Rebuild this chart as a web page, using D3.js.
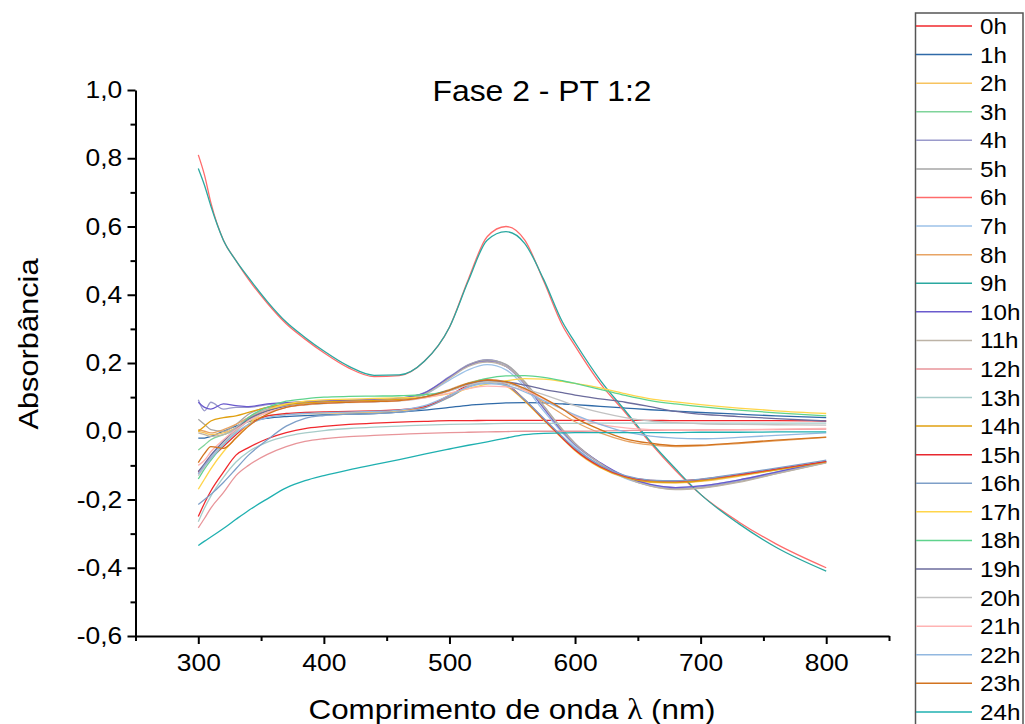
<!DOCTYPE html>
<html>
<head>
<meta charset="utf-8">
<script src="https://cdn.jsdelivr.net/npm/d3@7"></script>
<style>
  body { margin: 0; background: #fff; }
  svg { display: block; }
  text { font-family: "Liberation Sans", Arial, sans-serif; fill: #000; }
</style>
</head>
<body>
<div id="chart"></div>
<script>
// wavelengths (nm) shared by every series
const wavelengths = [300, 305, 310, 320, 330, 340, 355, 370, 385, 400, 420, 440, 460, 480, 500, 515, 530, 545, 560, 575, 590, 600, 620, 640, 660, 680, 700, 730, 760, 800];

const hours = ['0h', '1h', '2h', '3h', '4h', '5h', '6h', '7h', '8h', '9h', '10h', '11h', '12h',
  '13h', '14h', '15h', '16h', '17h', '18h', '19h', '20h', '21h', '22h', '23h', '24h'];

const yTicks = [-0.6, -0.4, -0.2, 0.0, 0.2, 0.4, 0.6, 0.8, 1.0];
const yMinor = [-0.5, -0.3, -0.1, 0.1, 0.3, 0.5, 0.7, 0.9];
const xTicks = [300, 400, 500, 600, 700, 800];
const xMinor = [250, 350, 450, 550, 650, 750, 850];

// absorbance, one array per hour
const abs0h = [-0.25, -0.21, -0.175, -0.12, -0.07, -0.048, -0.022, -0.004, 0.008, 0.014, 0.02, 0.024, 0.027, 0.029, 0.031, 0.031, 0.032, 0.032, 0.032, 0.032, 0.032, 0.032, 0.032, 0.032, 0.032, 0.031, 0.031, 0.031, 0.031, 0.03];
const abs1h = [-0.02, -0.02, -0.015, 0.0, 0.015, 0.028, 0.038, 0.043, 0.046, 0.048, 0.05, 0.052, 0.056, 0.062, 0.07, 0.076, 0.08, 0.083, 0.084, 0.083, 0.08, 0.078, 0.073, 0.068, 0.063, 0.059, 0.055, 0.05, 0.045, 0.04];
const abs2h = [0.0, -0.005, -0.01, -0.005, 0.01, 0.03, 0.045, 0.05, 0.052, 0.053, 0.054, 0.056, 0.06, 0.07, 0.1, 0.13, 0.145, 0.132, 0.088, 0.032, -0.022, -0.057, -0.107, -0.137, -0.15, -0.152, -0.147, -0.132, -0.114, -0.092];
const abs3h = [-0.055, -0.04, -0.025, -0.01, 0.005, 0.03, 0.06, 0.075, 0.082, 0.085, 0.087, 0.089, 0.092, 0.1, 0.12, 0.14, 0.15, 0.138, 0.092, 0.036, -0.018, -0.053, -0.103, -0.133, -0.146, -0.148, -0.143, -0.128, -0.112, -0.09];
const abs4h = [0.092, 0.06, 0.085, 0.065, 0.07, 0.07, 0.078, 0.082, 0.086, 0.088, 0.09, 0.092, 0.096, 0.113, 0.16, 0.195, 0.21, 0.195, 0.14, 0.07, 0.0, -0.04, -0.095, -0.135, -0.158, -0.168, -0.163, -0.145, -0.122, -0.09];
const abs5h = [0.035, 0.02, 0.005, 0.0, 0.02, 0.05, 0.07, 0.08, 0.085, 0.087, 0.089, 0.091, 0.095, 0.11, 0.157, 0.194, 0.208, 0.196, 0.145, 0.075, 0.005, -0.035, -0.093, -0.135, -0.16, -0.17, -0.166, -0.148, -0.124, -0.092];
const abs6h = [0.81, 0.75, 0.67, 0.56, 0.5, 0.445, 0.375, 0.315, 0.27, 0.23, 0.185, 0.16, 0.163, 0.205, 0.305, 0.445, 0.57, 0.6, 0.56, 0.44, 0.31, 0.25, 0.14, 0.055, -0.035, -0.115, -0.185, -0.265, -0.33, -0.4];
const abs7h = [-0.125, -0.1, -0.075, -0.03, 0.01, 0.04, 0.065, 0.075, 0.08, 0.083, 0.086, 0.089, 0.093, 0.107, 0.15, 0.18, 0.195, 0.18, 0.13, 0.06, -0.005, -0.045, -0.1, -0.138, -0.158, -0.165, -0.16, -0.143, -0.12, -0.09];
const abs8h = [0.005, 0.0, -0.005, 0.005, 0.02, 0.04, 0.06, 0.072, 0.079, 0.083, 0.086, 0.088, 0.091, 0.1, 0.122, 0.142, 0.152, 0.145, 0.12, 0.085, 0.05, 0.028, -0.005, -0.028, -0.04, -0.045, -0.043, -0.036, -0.028, -0.018];
const abs9h = [0.77, 0.72, 0.66, 0.56, 0.5, 0.45, 0.38, 0.32, 0.275, 0.235, 0.19, 0.164, 0.165, 0.205, 0.305, 0.44, 0.56, 0.585, 0.55, 0.445, 0.32, 0.26, 0.15, 0.06, -0.03, -0.11, -0.185, -0.27, -0.34, -0.41];
const abs10h = [0.085, 0.07, 0.065, 0.08, 0.075, 0.072, 0.08, 0.084, 0.087, 0.089, 0.091, 0.093, 0.097, 0.112, 0.158, 0.192, 0.205, 0.19, 0.138, 0.068, 0.0, -0.038, -0.092, -0.132, -0.156, -0.165, -0.16, -0.143, -0.12, -0.088];
const abs11h = [-0.005, -0.01, -0.015, -0.01, 0.01, 0.04, 0.065, 0.076, 0.082, 0.085, 0.087, 0.09, 0.094, 0.108, 0.155, 0.19, 0.203, 0.19, 0.14, 0.072, 0.003, -0.037, -0.094, -0.136, -0.161, -0.171, -0.167, -0.15, -0.125, -0.093];
const abs12h = [-0.283, -0.255, -0.225, -0.18, -0.13, -0.1, -0.068, -0.045, -0.03, -0.022, -0.016, -0.012, -0.009, -0.006, -0.004, -0.003, -0.002, -0.001, 0.0, 0.0, 0.0, 0.0, 0.001, 0.002, 0.003, 0.003, 0.004, 0.004, 0.005, 0.006];
const abs13h = [-0.265, -0.225, -0.19, -0.135, -0.09, -0.06, -0.032, -0.015, -0.005, 0.002, 0.008, 0.012, 0.015, 0.018, 0.02, 0.021, 0.022, 0.023, 0.023, 0.023, 0.023, 0.023, 0.024, 0.024, 0.024, 0.024, 0.024, 0.024, 0.024, 0.024];
const abs14h = [0.0, 0.015, 0.03, 0.04, 0.045, 0.055, 0.07, 0.078, 0.083, 0.086, 0.088, 0.09, 0.093, 0.1, 0.12, 0.138, 0.148, 0.136, 0.09, 0.034, -0.02, -0.055, -0.105, -0.135, -0.148, -0.15, -0.145, -0.13, -0.113, -0.09];
const abs15h = [-0.12, -0.1, -0.08, -0.045, -0.01, 0.02, 0.045, 0.052, 0.055, 0.057, 0.058, 0.06, 0.063, 0.072, 0.105, 0.135, 0.15, 0.137, 0.092, 0.036, -0.02, -0.054, -0.103, -0.132, -0.144, -0.146, -0.141, -0.127, -0.11, -0.088];
const abs16h = [-0.215, -0.2, -0.185, -0.15, -0.11, -0.07, -0.025, 0.015, 0.038, 0.046, 0.05, 0.052, 0.056, 0.068, 0.1, 0.13, 0.145, 0.135, 0.092, 0.038, -0.016, -0.05, -0.1, -0.13, -0.143, -0.145, -0.14, -0.125, -0.108, -0.085];
const abs17h = [-0.17, -0.14, -0.11, -0.06, -0.02, 0.02, 0.06, 0.08, 0.088, 0.092, 0.094, 0.096, 0.098, 0.1, 0.11, 0.125, 0.138, 0.148, 0.154, 0.153, 0.146, 0.14, 0.127, 0.11, 0.095, 0.086, 0.078, 0.068, 0.06, 0.052];
const abs18h = [-0.14, -0.11, -0.085, -0.04, 0.0, 0.04, 0.07, 0.088, 0.095, 0.1, 0.102, 0.103, 0.104, 0.107, 0.12, 0.14, 0.155, 0.162, 0.163, 0.158, 0.148, 0.14, 0.123, 0.105, 0.09, 0.08, 0.072, 0.062, 0.054, 0.045];
const abs19h = [-0.118, -0.095, -0.07, -0.03, 0.005, 0.035, 0.06, 0.072, 0.078, 0.082, 0.085, 0.087, 0.09, 0.1, 0.12, 0.138, 0.148, 0.145, 0.135, 0.123, 0.113, 0.106, 0.095, 0.085, 0.072, 0.058, 0.05, 0.043, 0.037, 0.03];
const abs20h = [-0.13, -0.105, -0.08, -0.035, 0.0, 0.03, 0.055, 0.07, 0.077, 0.081, 0.084, 0.086, 0.089, 0.098, 0.118, 0.135, 0.145, 0.14, 0.125, 0.107, 0.088, 0.075, 0.055, 0.04, 0.03, 0.025, 0.022, 0.02, 0.019, 0.018];
const abs21h = [-0.1, -0.085, -0.06, -0.025, 0.005, 0.03, 0.055, 0.07, 0.078, 0.082, 0.085, 0.087, 0.09, 0.098, 0.112, 0.125, 0.132, 0.13, 0.12, 0.095, 0.065, 0.045, 0.02, 0.01, 0.005, 0.003, 0.003, 0.005, 0.006, 0.008];
const abs22h = [-0.125, -0.1, -0.08, -0.04, -0.005, 0.02, 0.04, 0.048, 0.052, 0.054, 0.056, 0.058, 0.062, 0.075, 0.105, 0.13, 0.14, 0.135, 0.115, 0.09, 0.065, 0.048, 0.02, -0.002, -0.014, -0.02, -0.022, -0.018, -0.012, -0.005];
const abs23h = [-0.092, -0.065, -0.045, -0.05, -0.02, 0.015, 0.05, 0.07, 0.078, 0.082, 0.085, 0.087, 0.09, 0.1, 0.12, 0.14, 0.15, 0.145, 0.125, 0.097, 0.065, 0.04, 0.005, -0.022, -0.035, -0.042, -0.041, -0.034, -0.026, -0.017];
const abs24h = [-0.335, -0.322, -0.31, -0.285, -0.258, -0.232, -0.198, -0.166, -0.145, -0.13, -0.113, -0.098, -0.083, -0.067, -0.052, -0.041, -0.031, -0.02, -0.01, -0.006, -0.005, -0.004, -0.004, -0.004, -0.004, -0.004, -0.003, -0.003, -0.002, -0.002];

const absorbance = [abs0h, abs1h, abs2h, abs3h, abs4h, abs5h, abs6h, abs7h, abs8h, abs9h, abs10h, abs11h, abs12h,
  abs13h, abs14h, abs15h, abs16h, abs17h, abs18h, abs19h, abs20h, abs21h, abs22h, abs23h, abs24h];

const lineColors = ['#f0282d', '#2f6aa8', '#f7c35f', '#7fd49a', '#9a9acb', '#a6a6a6', '#ff6b6b', '#9cc2e8',
  '#e8a464', '#2aa8a0', '#6a5acd', '#bdb3a6', '#e8959a', '#a7ccc9', '#e0a010', '#e8282f', '#7e9fc8',
  '#ffd54a', '#5fd38d', '#6b6b9c', '#c2c2c2', '#ffb3b3', '#92b8e0', '#d2731f', '#1fb0b0'];

const width = 1025;
const height = 724;
const stretch = 1.1; // the original text is a bit wider than Arial

const svg = d3.select('#chart')
  .append('svg')
  .attr('width', width)
  .attr('height', height)
  .style('background-color', '#fff');

const x = d3.scaleLinear().domain([250, 850]).range([135.5, 889]);
const y = d3.scaleLinear().domain([-0.6, 1.0]).range([636, 90]);

const fmt = d => (d < 0 ? '-' : '') + Math.abs(d).toFixed(1).replace('.', ',');

/**
 * curves
 */
const line = d3.line()
  .x((d, i) => x(wavelengths[i]))
  .y(d => y(d))
  .curve(d3.curveMonotoneX);

svg.append('g')
  .selectAll('path')
  .data(absorbance)
  .enter()
  .append('path')
  .attr('d', d => line(d))
  .attr('fill', 'none')
  .attr('stroke', (d, i) => lineColors[i])
  .attr('stroke-width', 1.3);

/**
 * axes
 */
const yAxis = svg.append('g')
  .attr('transform', `translate(${x(250)},0)`)
  .call(d3.axisLeft(y).tickValues(yTicks).tickSize(8).tickSizeOuter(0).tickPadding(4).tickFormat(fmt));

svg.append('g')
  .attr('transform', `translate(${x(250)},0)`)
  .call(d3.axisLeft(y).tickValues(yMinor).tickSize(5).tickSizeOuter(0).tickFormat(''))
  .select('.domain').remove();

const xAxis = svg.append('g')
  .attr('transform', `translate(0,${y(-0.6)})`)
  .call(d3.axisBottom(x).tickValues(xTicks).tickSize(8).tickSizeOuter(0).tickPadding(10).tickFormat(d3.format('d')));

svg.append('g')
  .attr('transform', `translate(0,${y(-0.6)})`)
  .call(d3.axisBottom(x).tickValues(xMinor).tickSize(5).tickSizeOuter(0).tickFormat(''))
  .select('.domain').remove();

svg.selectAll('.domain').attr('stroke', '#000').attr('stroke-width', 2);
svg.selectAll('.tick line').attr('stroke', '#000').attr('stroke-width', 2);

yAxis.selectAll('text')
  .attr('font-size', 24)
  .attr('font-family', '"Liberation Sans", Arial, sans-serif')
  .attr('transform', `scale(${stretch},1)`);

xAxis.selectAll('text')
  .attr('font-size', 24)
  .attr('font-family', '"Liberation Sans", Arial, sans-serif')
  .attr('transform', `scale(${stretch},1)`);

/**
 * titles
 */
svg.append('text')
  .attr('transform', `translate(542,101) scale(${stretch},1)`)
  .attr('text-anchor', 'middle')
  .attr('font-size', 29)
  .text('Fase 2 - PT 1:2');

const xTitle = svg.append('text')
  .attr('transform', `translate(512,719) scale(${stretch},1)`)
  .attr('text-anchor', 'middle')
  .attr('font-size', 28.5);
xTitle.append('tspan').text('Comprimento de onda ');
xTitle.append('tspan').attr('font-family', '"Liberation Serif", "DejaVu Serif", serif').text('λ');
xTitle.append('tspan').text(' (nm)');

svg.append('text')
  .attr('transform', `translate(38,344) rotate(-90) scale(${stretch},1)`)
  .attr('text-anchor', 'middle')
  .attr('font-size', 28)
  .text('Absorbância');

/**
 * legend
 */
const legend = svg.append('g');

legend.append('rect')
  .attr('x', 915.5)
  .attr('y', 13)
  .attr('width', 107.5)
  .attr('height', 730)
  .attr('fill', '#fff')
  .attr('stroke', '#555')
  .attr('stroke-width', 1.5);

const rows = legend.selectAll('g.row')
  .data(hours)
  .enter()
  .append('g')
  .attr('class', 'row')
  .attr('transform', (d, i) => `translate(0,${26 + i * 28.58})`);

rows.append('line')
  .attr('x1', 916)
  .attr('x2', 972)
  .attr('stroke', (d, i) => lineColors[i])
  .attr('stroke-width', 1.5);

rows.append('text')
  .attr('transform', `translate(980,8) scale(${stretch},1)`)
  .attr('font-size', 22)
  .text(d => d);
</script>
</body>
</html>
